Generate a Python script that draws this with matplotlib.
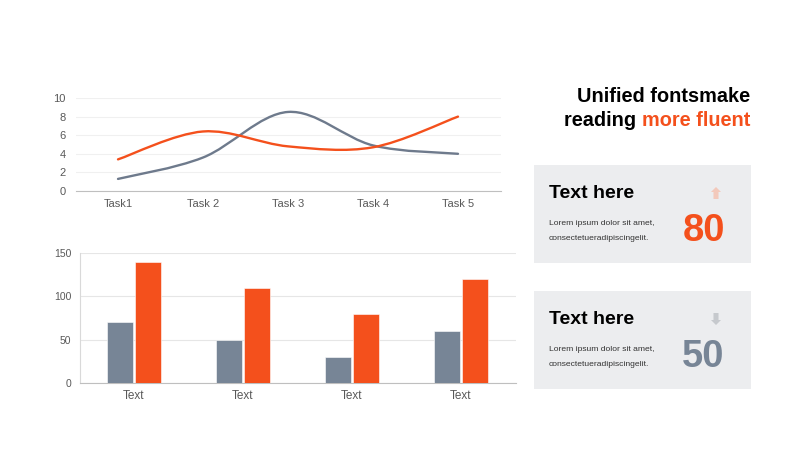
import matplotlib.pyplot as plt
from matplotlib.path import Path
from matplotlib.patches import PathPatch, Rectangle, Polygon
import numpy as np

plt.rcParams['font.family'] = ['Liberation Sans', 'DejaVu Sans']

ORANGE = '#F4501C'
GRAY = '#778596'
LINE_GRAY = '#6E7A8C'

# line chart data
tasks = ['Task1', 'Task 2', 'Task 3', 'Task 4', 'Task 5']
gray_line = [1.3, 3.6, 8.5, 4.9, 4.0]
orange_line = [3.4, 6.4, 4.8, 4.7, 8.0]

# bar chart data
bar_labels = ['Text', 'Text', 'Text', 'Text']
gray_bars = [70, 50, 30, 60]
orange_bars = [140, 110, 80, 120]

# cards
card_titles = ['Text here', 'Text here']
card_body = ['Lorem ipsum dolor sit amet,', 'consectetueradipiscingelit.']
card_values = ['80', '50']


def smooth_path(xs, ys):
    # Catmull-Rom style bezier through the points, like office "smoothed line"
    pts = list(zip(xs, ys))
    verts = [pts[0]]
    codes = [Path.MOVETO]
    n = len(pts)
    for i in range(n - 1):
        p0 = pts[i - 1] if i > 0 else pts[i]
        p1 = pts[i]
        p2 = pts[i + 1]
        p3 = pts[i + 2] if i + 2 < n else pts[i + 1]
        c1 = (p1[0] + (p2[0] - p0[0]) / 6, p1[1] + (p2[1] - p0[1]) / 6)
        c2 = (p2[0] - (p3[0] - p1[0]) / 6, p2[1] - (p3[1] - p1[1]) / 6)
        verts += [c1, c2, p2]
        codes += [Path.CURVE4] * 3
    return Path(verts, codes)


def main():
    fig = plt.figure(figsize=(8, 4.5), dpi=100)
    fig.patch.set_facecolor('white')

    # ---- top line chart
    ax1 = fig.add_axes([75.5 / 800, 1 - 191 / 450, 425 / 800, 93 / 450])
    x = np.arange(len(tasks))
    for vals, col in [(gray_line, LINE_GRAY), (orange_line, ORANGE)]:
        patch = PathPatch(smooth_path(x, vals), facecolor='none', edgecolor=col,
                          lw=1.7, capstyle='round', zorder=3)
        ax1.add_patch(patch)
    ax1.set_xlim(-0.5, len(tasks) - 0.5)
    ax1.set_ylim(0, 10)
    ax1.set_yticks(range(0, 11, 2))
    ax1.set_xticks(x)
    ax1.set_xticklabels(tasks)
    ax1.grid(axis='y', color='#F0F0F0', lw=0.8)
    ax1.set_axisbelow(True)
    for s in ['top', 'right', 'left']:
        ax1.spines[s].set_visible(False)
    ax1.spines['bottom'].set_color('#BFBFBF')
    ax1.tick_params(length=0, labelsize=8, labelcolor='#595959')
    ax1.tick_params(axis='y', pad=7)
    ax1.tick_params(axis='x', pad=6)

    # ---- bottom bar chart
    ax2 = fig.add_axes([79.5 / 800, 1 - 383 / 450, 436 / 800, 130 / 450])
    xb = np.arange(len(bar_labels))
    w = 0.24
    ax2.bar(xb - 0.125, gray_bars, w, color=GRAY, edgecolor='white', lw=0.4, zorder=3)
    ax2.bar(xb + 0.125, orange_bars, w, color=ORANGE, edgecolor='white', lw=0.4, zorder=3)
    ax2.set_xlim(-0.5, len(bar_labels) - 0.5)
    ax2.set_ylim(0, 150)
    ax2.set_yticks([0, 50, 100, 150])
    ax2.set_xticks(xb)
    ax2.set_xticklabels(bar_labels)
    ax2.grid(axis='y', color='#E6E6E6', lw=0.8)
    ax2.set_axisbelow(True)
    for s in ['top', 'right']:
        ax2.spines[s].set_visible(False)
    ax2.spines['left'].set_color('#D9D9D9')
    ax2.spines['bottom'].set_color('#BFBFBF')
    ax2.tick_params(length=0, labelsize=7.5, labelcolor='#595959')
    ax2.tick_params(axis='x', labelsize=8.5)
    ax2.tick_params(axis='y', pad=6)
    ax2.tick_params(axis='x', pad=5)

    # ---- right side, pixel overlay
    ov = fig.add_axes([0, 0, 1, 1])
    ov.set_xlim(0, 800)
    ov.set_ylim(450, 0)
    ov.axis('off')
    ov.patch.set_alpha(0)

    t2 = ov.text(750, 121, 'more fluent', ha='right', va='center',
                 fontsize=14.3, fontweight='bold', color=ORANGE)
    ov.annotate('reading ', xy=(0, 0), xycoords=t2, ha='right', va='bottom',
                fontsize=14.3, fontweight='bold', color='black')
    ov.text(750, 97, 'Unified fontsmake', ha='right', va='center',
            fontsize=14.3, fontweight='bold', color='black')

    tops = [165, 291]
    num_cols = [ORANGE, GRAY]
    arrow_cols = ['#F3C9BB', '#C6C9CD']
    for i in range(2):
        top = tops[i]
        ov.add_patch(Rectangle((534, top), 217, 98, facecolor='#ECEDEF',
                               edgecolor='none'))
        ov.text(549, top + 29, card_titles[i], ha='left', va='center',
                fontsize=14, fontweight='bold', color='black')
        ov.text(549, top + 58.5, card_body[0], ha='left', va='center',
                fontsize=6.1, color='#333333')
        ov.text(549, top + 73, card_body[1], ha='left', va='center',
                fontsize=6.1, color='#333333')
        ov.text(703.5, top + 66, card_values[i], ha='center', va='center',
                fontsize=27.5, fontweight='bold', color=num_cols[i])
        cx, cy = 716, top + 28
        if i == 0:
            pts = [(cx, cy - 6), (cx + 5, cy - 1), (cx + 2.5, cy - 1), (cx + 2.5, cy + 6),
                   (cx - 2.5, cy + 6), (cx - 2.5, cy - 1), (cx - 5, cy - 1)]
        else:
            pts = [(cx, cy + 6), (cx + 5, cy + 1), (cx + 2.5, cy + 1), (cx + 2.5, cy - 6),
                   (cx - 2.5, cy - 6), (cx - 2.5, cy + 1), (cx - 5, cy + 1)]
        ov.add_patch(Polygon(pts, closed=True, facecolor=arrow_cols[i], edgecolor='none'))

    fig.savefig('out.png', dpi=100, facecolor='white')


if __name__ == '__main__':
    main()
